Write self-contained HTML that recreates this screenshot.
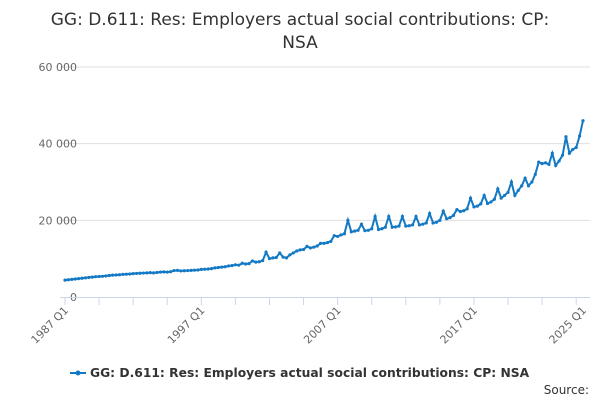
<!DOCTYPE html>
<html><head><meta charset="utf-8"><style>
body{margin:0;background:#fff;font-family:"DejaVu Sans","Liberation Sans",sans-serif}
</style></head><body>
<svg id="chart" width="600" height="400" xmlns="http://www.w3.org/2000/svg" style="display:block;font-family:'DejaVu Sans','Liberation Sans',sans-serif">
<text x="300" y="25" text-anchor="middle" font-size="17" fill="#333">GG: D.611: Res: Employers actual social contributions: CP:</text>
<text x="300" y="48" text-anchor="middle" font-size="17" fill="#333">NSA</text>
<g id="grid"></g><g id="xaxis"></g><g id="series"></g>
<g>
<line x1="70" y1="373" x2="86" y2="373" stroke="#1479c4" stroke-width="2"/>
<circle cx="78" cy="373" r="2.5" fill="#1479c4"/>
<text x="90" y="377" font-size="12.3" font-weight="bold" fill="#333">GG: D.611: Res: Employers actual social contributions: CP: NSA</text>
</g>
<text x="589" y="394" text-anchor="end" font-size="12" fill="#333">Source:</text>
</svg>
<script>
const yTicks=[0,20000,40000,60000];
const yTickLabels=["0","20 000","40 000","60 000"];
const xLabels=["1987 Q1","1997 Q1","2007 Q1","2017 Q1","2025 Q1"];
const xLabelIdx=[0,40,80,120,152];
const values=[
4400,4500,4600,4700, 4800,4900,5000,5100, 5200,5300,5350,5400, 5500,5600,5700,5750,
5800,5900,5950,6000, 6100,6150,6200,6250, 6300,6350,6300,6400, 6500,6550,6500,6600,
6900,6950,6800,6850, 6900,6950,7000,7050, 7200,7250,7300,7400, 7600,7700,7800,7900,
8100,8200,8400,8300, 8800,8600,8700,9400, 9100,9200,9500,11700, 10000,10200,10300,11500,
10400,10200,11000,11500, 12000,12300,12400,13200, 12800,13000,13300,14000, 14000,14200,14500,16000,
15800,16200,16500,20000, 17000,17200,17400,19000, 17300,17400,17800,21000, 17600,17800,18200,21000,
18200,18300,18500,21000, 18500,18600,18800,21000, 18800,19000,19300,21800, 19300,19500,20000,22400,
20400,20700,21300,22800, 22300,22500,23000,25800, 23500,23700,24300,26500, 24400,24800,25500,28200,
25800,26500,27300,30000, 26500,27800,29000,31000, 29000,30000,32000,35200, 34800,35000,34600,37500,
34300,35500,37000,41800, 37500,38500,39000,42000, 46000];
const X0=65,X1=583,Y0=297,Y60=67;
const xs=i=>X0+(X1-X0)*i/(values.length-1);
const ys=v=>Y0-(Y0-Y60)*v/60000;
const NS="http://www.w3.org/2000/svg";
const mk=(t,a,p)=>{const e=document.createElementNS(NS,t);for(const k in a)e.setAttribute(k,a[k]);p.appendChild(e);return e;};
const grid=document.getElementById('grid');
yTicks.forEach((v,i)=>{
 if(v>0){const l=mk('line',{x1:60,x2:590,y1:ys(v),y2:ys(v),stroke:'#e0e0e0','stroke-width':1},grid);
 
 }
 const t=mk('text',{x:77,y:ys(v)+4,'text-anchor':'end','font-size':11,fill:'#666'},grid);
 t.textContent=yTickLabels[i];
 
 
});
const xa=document.getElementById('xaxis');
const ax=mk('line',{x1:60,x2:590,y1:Y0+0.5,y2:Y0+0.5,stroke:'#ccd6eb'},xa);


for(let i=0;i<values.length;i+=10){mk('line',{x1:xs(i),x2:xs(i),y1:Y0,y2:Y0+8,stroke:'#ccd6eb'},xa);}
xLabelIdx.forEach((idx,k)=>{
 const x=xs(idx),y=Y0+14;
 const t=mk('text',{x:x+4,y:y,'text-anchor':'end','font-size':11,fill:'#666',transform:`rotate(-45 ${x+4} ${y})`},xa);
 t.textContent=xLabels[k];
 
 
});
const s=document.getElementById('series');
const path=mk('path',{d:values.map((v,i)=>(i?'L':'M')+xs(i).toFixed(1)+','+ys(v).toFixed(1)).join(''),fill:'none',stroke:'#1479c4','stroke-width':2},s);


values.forEach((v,i)=>{const c=mk('circle',{cx:xs(i),cy:ys(v),r:1.6,fill:'#1479c4'},s);
 
 });
</script>
</body></html>
